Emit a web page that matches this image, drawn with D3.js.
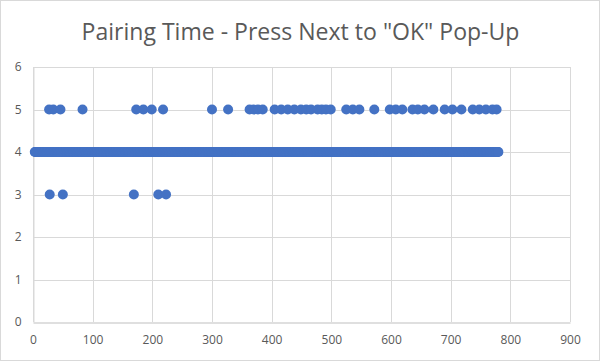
<!DOCTYPE html>
<html><head><meta charset="utf-8">
<script src="https://cdn.jsdelivr.net/npm/d3@7"></script>
<style>
html,body{margin:0;padding:0;background:#fff;}
svg{display:block;}
</style></head>
<body>
<script>
// Data: sample index (x) and pairing time (y)
const titleText = 'Pairing Time - Press Next to "OK" Pop-Up';
const xTicks = [0,100,200,300,400,500,600,700,800,900];
const yTicks = [0,1,2,3,4,5,6];
// samples with value 5
const fiveX = [27,34,46,83,173,185,199,218,300,327,363,370,377,385,405,416,427,438,449,458,466,477,484,491,499,525,536,547,572,598,608,619,636,645,656,671,690,703,718,737,748,759,770,777];
// samples with value 3
const threeX = [28,50,169,210,223];
// runs of consecutive samples with value 4: [first, last]
const fourRuns = [[3,780]];

const points = [];
fourRuns.forEach(([a,b]) => { for (let i=a;i<=b;i++) points.push({x:i,y:4}); });
fiveX.forEach(x => points.push({x, y:5}));
threeX.forEach(x => points.push({x, y:3}));

const W=600,H=361;
const m={left:33,right:30,top:67,bottom:39};
const svg=d3.select("body").append("svg").attr("width",W).attr("height",H);
svg.append("rect").attr("x",0.5).attr("y",0.5).attr("width",W-1).attr("height",H-1)
  .attr("fill","#fff").attr("stroke","#d9d9d9");

const x=d3.scaleLinear().domain([0,900]).range([m.left,W-m.right]);
const y=d3.scaleLinear().domain([0,6]).range([H-m.bottom,m.top]);

const font="'Open Sans', 'DejaVu Sans', sans-serif";
// gridlines
svg.append("g").selectAll("line").data(yTicks.filter(d=>d>0)).join("line")
  .attr("x1",x(0)).attr("x2",x(900)).attr("y1",d=>Math.round(y(d))+0.5).attr("y2",d=>Math.round(y(d))+0.5)
  .attr("stroke","#d9d9d9").attr("stroke-width",1);
svg.append("g").selectAll("line").data(xTicks).join("line")
  .attr("y1",y(0)).attr("y2",y(6)).attr("x1",d=>Math.round(x(d))+0.5).attr("x2",d=>Math.round(x(d))+0.5)
  .attr("stroke","#d9d9d9").attr("stroke-width",1);

// axes
const xAxis=svg.append("g").attr("transform",`translate(0,${Math.round(y(0))+0.5})`)
  .call(d3.axisBottom(x).tickValues(xTicks).tickSize(0).tickPadding(13).tickFormat(d3.format("d")));
const yAxis=svg.append("g").attr("transform",`translate(${Math.round(x(0))+0.5},0)`)
  .call(d3.axisLeft(y).tickValues(yTicks).tickSize(0).tickPadding(12).tickFormat(d3.format("d")));
[xAxis,yAxis].forEach(g=>{
  g.select(".domain").attr("stroke","#bfbfbf");
  g.selectAll("text").attr("fill","#595959").style("font-family",font).style("font-size","12px");
});
yAxis.select(".domain").attr("stroke","#d9d9d9");

// points
svg.append("g").selectAll("circle").data(points).join("circle")
  .attr("cx",d=>x(d.x)).attr("cy",d=>y(d.y)).attr("r",5)
  .attr("fill","#4472c4");

// title
const t=svg.append("text").attr("x",300.5).attr("y",40).attr("text-anchor","middle")
  .attr("fill","#595959").style("font-family",font).style("font-size","20px").text(titleText);
const len=t.node().getComputedTextLength();
t.style("font-size",(20*438/len).toFixed(2)+"px");
</script>
</body></html>
